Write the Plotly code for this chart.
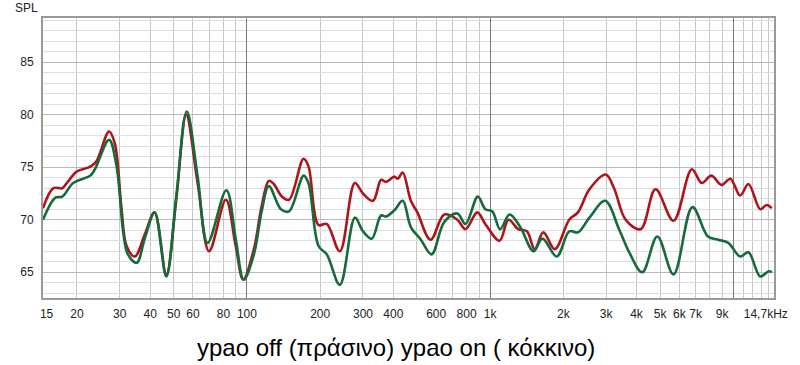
import math
import plotly.graph_objects as go

# ypao on (red)
on_freq = [14.5, 16.0, 17.4, 18.2, 20.0, 22.7, 24.1, 27.1, 28.6, 30.5, 32.0, 34.6, 38.0, 41.7,
           46.6, 51.2, 56.2, 62.7, 69.9, 81.9, 89.9, 96.5, 106.8, 115, 123, 128.9, 139.4, 149,
           170.9, 179, 196.8, 212.8, 241, 277.7, 300, 329.8, 356.3, 373, 404, 417, 437, 472,
           502, 569, 648, 733, 792, 885, 955, 1093, 1190, 1306, 1416, 1525, 1655, 1844, 2115,
           2296, 2561, 2988, 3233, 3609, 4157, 4787, 5676, 6749, 7413, 8130, 8930, 9720,
           10670, 11540, 12900, 13700, 14400]
on_spl = [71.1, 73.0, 73.0, 73.5, 74.6, 75.05, 75.6, 78.4, 77.3, 71.0, 67.5, 66.5, 68.6, 70.7,
          64.8, 71.9, 80.0, 73.5, 67.0, 71.9, 67.5, 64.3, 67.2, 71.3, 73.7, 73.4, 72.2, 71.9,
          75.8, 75.1, 69.5, 69.6, 67.0, 73.5, 72.5, 71.8, 73.8, 73.6, 74.1, 73.9, 74.5, 71.8,
          70.7, 68.1, 70.5, 70.0, 69.1, 70.7, 69.6, 68.0, 70.0, 69.1, 68.9, 67.2, 68.8, 67.2, 70.0,
          70.7, 72.9, 74.3, 73.0, 70.0, 69.1, 72.9, 69.9, 74.8, 73.5, 74.2, 73.3, 73.9,
          72.3, 73.4, 71.0, 71.4, 71.1]

# ypao off (green)
off_freq = [14.5, 16.3, 17.4, 19.3, 22.7, 23.7, 27.1, 29.1, 31.0, 32.4, 35.2, 38.0, 41.7,
            46.6, 51.2, 56.6, 62.7, 68.9, 82.3, 89.9, 97, 106.8, 115, 123, 138, 149,
            171, 179, 197, 213, 241, 278, 300, 326, 356, 373, 404, 437, 472, 519, 574,
            648, 733, 792, 890, 955, 1020, 1100, 1202, 1330, 1509, 1640, 1880, 2115, 2296,
            2561, 2970, 3390, 3734, 4222, 4871, 5676, 6791, 7870, 8660, 9530, 10670, 11540,
            12900, 14000, 14400]
off_spl = [70.0, 72.1, 72.2, 73.5, 74.2, 74.8, 77.6, 75.1, 68.8, 66.7, 65.9, 68.2, 70.7,
           64.6, 72.2, 80.3, 74.1, 67.8, 72.8, 68.2, 64.3, 66.7, 70.8, 73.2, 71.0, 70.8,
           74.2, 73.5, 67.5, 66.7, 63.8, 70.2, 68.9, 68.2, 70.4, 70.3, 70.9, 71.8, 69.3, 68.1, 66.7,
           69.8, 70.6, 69.6, 72.2, 71.0, 70.8, 69.1, 70.5, 69.3, 67.0, 68.2, 66.5, 68.9, 68.8,
           70.2, 71.8, 69.1, 66.9, 65.0, 68.4, 64.8, 71.2, 68.4, 68.1, 67.8, 66.5, 66.9,
           64.6, 65.1, 65.0]

x_tick_vals = [15, 20, 30, 40, 50, 60, 80, 100, 200, 300, 400, 600, 800, 1000,
               2000, 3000, 4000, 5000, 6000, 7000, 9000, 13600]
x_tick_text = ["15", "20", "30", "40", "50", "60", "80", "100", "200", "300", "400", "600",
               "800", "1k", "2k", "3k", "4k", "5k", "6k", "7k", "9k", "14,7kHz"]
x_grid_minor = [20, 30, 40, 50, 60, 70, 80, 90, 200, 300, 400, 500, 600, 700, 800, 900,
                2000, 3000, 4000, 5000, 6000, 7000, 8000, 9000, 11000, 12000, 13000, 14000]
x_grid_major = [100, 1000, 10000]
y_tick_vals = [65, 70, 75, 80, 85]

x_range = [math.log10(14.5), math.log10(14700)]
y_range = [62.55, 89.2]

fig = go.Figure()
fig.add_trace(go.Scatter(x=on_freq, y=on_spl, mode="lines", name="ypao on",
                         line=dict(color="#b0141b", width=2.6, shape="spline", smoothing=1.0)))
fig.add_trace(go.Scatter(x=off_freq, y=off_spl, mode="lines", name="ypao off",
                         line=dict(color="#146b3c", width=2.6, shape="spline", smoothing=1.0)))
# invisible helper on overlay axis (dark decade lines)
fig.add_trace(go.Scatter(x=[100, 1000], y=[70, 70], xaxis="x2", mode="lines",
                         line=dict(width=0), opacity=0, showlegend=False, hoverinfo="skip"))

tickfont = dict(family="Liberation Sans, Arial, sans-serif", size=12, color="#222222")

fig.update_layout(
    width=800, height=365,
    margin=dict(l=43, r=22, t=18, b=67),
    paper_bgcolor="white", plot_bgcolor="white",
    showlegend=False,
    xaxis=dict(type="log", range=x_range, tickmode="array", tickvals=x_tick_vals,
               ticktext=x_tick_text, showgrid=False, ticks="", tickfont=tickfont,
               ticklabelstandoff=4, zeroline=False,
               showline=True, mirror=True, linecolor="#9a9a9a", linewidth=2,
               minor=dict(tickmode="array", tickvals=x_grid_minor, showgrid=True,
                          gridcolor="#c6c6c6", gridwidth=1, ticks="")),
    xaxis2=dict(type="log", range=x_range, overlaying="x", tickmode="array",
                tickvals=x_grid_major, showgrid=True, gridcolor="#7a7a7a", gridwidth=1,
                showticklabels=False, ticks="", showline=False, zeroline=False),
    yaxis=dict(range=y_range, tickmode="array", tickvals=y_tick_vals, showgrid=True,
               gridcolor="#b9b9b9", gridwidth=1, ticks="", tickfont=tickfont,
               ticklabelstandoff=5, zeroline=False,
               showline=True, mirror=True, linecolor="#9a9a9a", linewidth=2,
               minor=dict(dtick=1, tick0=0, showgrid=True, gridcolor="#dedede",
                          gridwidth=1, ticks="")),
    annotations=[
        dict(text="SPL", xref="paper", yref="paper", x=-0.022, y=1.035,
             xanchor="center", yanchor="middle", showarrow=False,
             font=dict(family="Liberation Sans, Arial, sans-serif", size=12, color="#222222")),
        dict(text="ypao off (πράσινο) ypao on ( κόκκινο)", xref="paper", yref="paper",
             x=0.483, y=-0.178, xanchor="center", yanchor="middle", showarrow=False,
             font=dict(family="Liberation Sans, Arial, sans-serif", size=24, color="#000000")),
    ],
)

fig.write_html("out.html")
